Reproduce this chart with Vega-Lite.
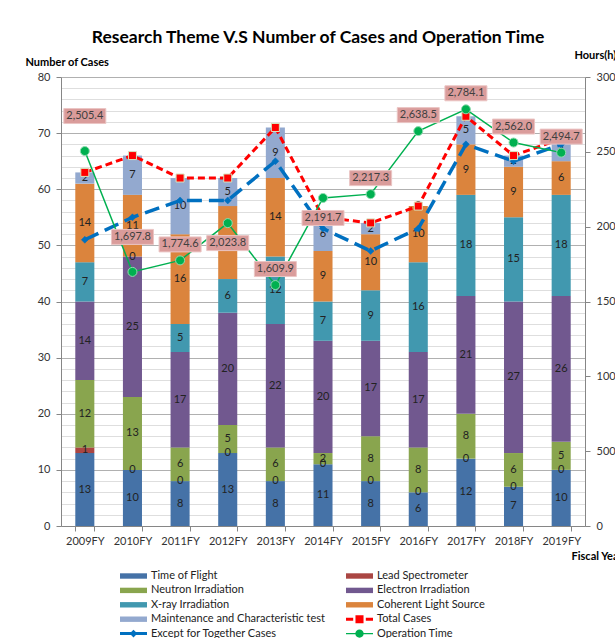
{
  "$schema": "https://vega.github.io/schema/vega-lite/v6.json",
  "width": 524,
  "height": 449,
  "autosize": {"type": "none"},
  "padding": {"left": 61, "top": 77, "right": 30, "bottom": 112},
  "title": {"text": "Research Theme V.S Number of Cases and Operation Time", "font": "Lato", "fontSize": 17.5, "fontWeight": "bold", "color": "#000000", "frame": "group", "anchor": "middle", "offset": 16, "dx": -5, "dy": 27, "baseline": "alphabetic"},
  "config": {
    "font": "Lato",
    "view": {"stroke": null},
    "axis": {"labelFont": "Lato", "labelFontSize": 11, "labelColor": "#333333", "titleFont": "Lato", "titleFontSize": 11, "titleFontWeight": "bold", "titleColor": "#000000", "domainColor": "#868686", "tickColor": "#868686", "tickSize": 5}
  },
  "datasets": {
    "bars": [
      {"fy": "2009FY", "theme": "Time of Flight", "k": 1, "cases": 13},
      {"fy": "2009FY", "theme": "Lead Spectrometer", "k": 2, "cases": 1},
      {"fy": "2009FY", "theme": "Neutron Irradiation", "k": 3, "cases": 12},
      {"fy": "2009FY", "theme": "Electron Irradiation", "k": 4, "cases": 14},
      {"fy": "2009FY", "theme": "X-ray Irradiation", "k": 5, "cases": 7},
      {"fy": "2009FY", "theme": "Coherent Light Source", "k": 6, "cases": 14},
      {"fy": "2009FY", "theme": "Maintenance and Characteristic test", "k": 7, "cases": 2},
      {"fy": "2010FY", "theme": "Time of Flight", "k": 1, "cases": 10},
      {"fy": "2010FY", "theme": "Lead Spectrometer", "k": 2, "cases": 0},
      {"fy": "2010FY", "theme": "Neutron Irradiation", "k": 3, "cases": 13},
      {"fy": "2010FY", "theme": "Electron Irradiation", "k": 4, "cases": 25},
      {"fy": "2010FY", "theme": "X-ray Irradiation", "k": 5, "cases": 0},
      {"fy": "2010FY", "theme": "Coherent Light Source", "k": 6, "cases": 11},
      {"fy": "2010FY", "theme": "Maintenance and Characteristic test", "k": 7, "cases": 7},
      {"fy": "2011FY", "theme": "Time of Flight", "k": 1, "cases": 8},
      {"fy": "2011FY", "theme": "Lead Spectrometer", "k": 2, "cases": 0},
      {"fy": "2011FY", "theme": "Neutron Irradiation", "k": 3, "cases": 6},
      {"fy": "2011FY", "theme": "Electron Irradiation", "k": 4, "cases": 17},
      {"fy": "2011FY", "theme": "X-ray Irradiation", "k": 5, "cases": 5},
      {"fy": "2011FY", "theme": "Coherent Light Source", "k": 6, "cases": 16},
      {"fy": "2011FY", "theme": "Maintenance and Characteristic test", "k": 7, "cases": 10},
      {"fy": "2012FY", "theme": "Time of Flight", "k": 1, "cases": 13},
      {"fy": "2012FY", "theme": "Lead Spectrometer", "k": 2, "cases": 0},
      {"fy": "2012FY", "theme": "Neutron Irradiation", "k": 3, "cases": 5},
      {"fy": "2012FY", "theme": "Electron Irradiation", "k": 4, "cases": 20},
      {"fy": "2012FY", "theme": "X-ray Irradiation", "k": 5, "cases": 6},
      {"fy": "2012FY", "theme": "Coherent Light Source", "k": 6, "cases": 13},
      {"fy": "2012FY", "theme": "Maintenance and Characteristic test", "k": 7, "cases": 5},
      {"fy": "2013FY", "theme": "Time of Flight", "k": 1, "cases": 8},
      {"fy": "2013FY", "theme": "Lead Spectrometer", "k": 2, "cases": 0},
      {"fy": "2013FY", "theme": "Neutron Irradiation", "k": 3, "cases": 6},
      {"fy": "2013FY", "theme": "Electron Irradiation", "k": 4, "cases": 22},
      {"fy": "2013FY", "theme": "X-ray Irradiation", "k": 5, "cases": 12},
      {"fy": "2013FY", "theme": "Coherent Light Source", "k": 6, "cases": 14},
      {"fy": "2013FY", "theme": "Maintenance and Characteristic test", "k": 7, "cases": 9},
      {"fy": "2014FY", "theme": "Time of Flight", "k": 1, "cases": 11},
      {"fy": "2014FY", "theme": "Lead Spectrometer", "k": 2, "cases": 0},
      {"fy": "2014FY", "theme": "Neutron Irradiation", "k": 3, "cases": 2},
      {"fy": "2014FY", "theme": "Electron Irradiation", "k": 4, "cases": 20},
      {"fy": "2014FY", "theme": "X-ray Irradiation", "k": 5, "cases": 7},
      {"fy": "2014FY", "theme": "Coherent Light Source", "k": 6, "cases": 9},
      {"fy": "2014FY", "theme": "Maintenance and Characteristic test", "k": 7, "cases": 6},
      {"fy": "2015FY", "theme": "Time of Flight", "k": 1, "cases": 8},
      {"fy": "2015FY", "theme": "Lead Spectrometer", "k": 2, "cases": 0},
      {"fy": "2015FY", "theme": "Neutron Irradiation", "k": 3, "cases": 8},
      {"fy": "2015FY", "theme": "Electron Irradiation", "k": 4, "cases": 17},
      {"fy": "2015FY", "theme": "X-ray Irradiation", "k": 5, "cases": 9},
      {"fy": "2015FY", "theme": "Coherent Light Source", "k": 6, "cases": 10},
      {"fy": "2015FY", "theme": "Maintenance and Characteristic test", "k": 7, "cases": 2},
      {"fy": "2016FY", "theme": "Time of Flight", "k": 1, "cases": 6},
      {"fy": "2016FY", "theme": "Lead Spectrometer", "k": 2, "cases": 0},
      {"fy": "2016FY", "theme": "Neutron Irradiation", "k": 3, "cases": 8},
      {"fy": "2016FY", "theme": "Electron Irradiation", "k": 4, "cases": 17},
      {"fy": "2016FY", "theme": "X-ray Irradiation", "k": 5, "cases": 16},
      {"fy": "2016FY", "theme": "Coherent Light Source", "k": 6, "cases": 10},
      {"fy": "2016FY", "theme": "Maintenance and Characteristic test", "k": 7, "cases": 0},
      {"fy": "2017FY", "theme": "Time of Flight", "k": 1, "cases": 12},
      {"fy": "2017FY", "theme": "Lead Spectrometer", "k": 2, "cases": 0},
      {"fy": "2017FY", "theme": "Neutron Irradiation", "k": 3, "cases": 8},
      {"fy": "2017FY", "theme": "Electron Irradiation", "k": 4, "cases": 21},
      {"fy": "2017FY", "theme": "X-ray Irradiation", "k": 5, "cases": 18},
      {"fy": "2017FY", "theme": "Coherent Light Source", "k": 6, "cases": 9},
      {"fy": "2017FY", "theme": "Maintenance and Characteristic test", "k": 7, "cases": 5},
      {"fy": "2018FY", "theme": "Time of Flight", "k": 1, "cases": 7},
      {"fy": "2018FY", "theme": "Lead Spectrometer", "k": 2, "cases": 0},
      {"fy": "2018FY", "theme": "Neutron Irradiation", "k": 3, "cases": 6},
      {"fy": "2018FY", "theme": "Electron Irradiation", "k": 4, "cases": 27},
      {"fy": "2018FY", "theme": "X-ray Irradiation", "k": 5, "cases": 15},
      {"fy": "2018FY", "theme": "Coherent Light Source", "k": 6, "cases": 9},
      {"fy": "2018FY", "theme": "Maintenance and Characteristic test", "k": 7, "cases": 2},
      {"fy": "2019FY", "theme": "Time of Flight", "k": 1, "cases": 10},
      {"fy": "2019FY", "theme": "Lead Spectrometer", "k": 2, "cases": 0},
      {"fy": "2019FY", "theme": "Neutron Irradiation", "k": 3, "cases": 5},
      {"fy": "2019FY", "theme": "Electron Irradiation", "k": 4, "cases": 26},
      {"fy": "2019FY", "theme": "X-ray Irradiation", "k": 5, "cases": 18},
      {"fy": "2019FY", "theme": "Coherent Light Source", "k": 6, "cases": 6},
      {"fy": "2019FY", "theme": "Maintenance and Characteristic test", "k": 7, "cases": 4}
    ],
    "lines": [
      {"fy": "2009FY", "total": 63, "except": 51, "hours": 2505.4},
      {"fy": "2010FY", "total": 66, "except": 55, "hours": 1697.8},
      {"fy": "2011FY", "total": 62, "except": 58, "hours": 1774.6},
      {"fy": "2012FY", "total": 62, "except": 58, "hours": 2023.8},
      {"fy": "2013FY", "total": 71, "except": 65, "hours": 1609.9},
      {"fy": "2014FY", "total": 55, "except": 53, "hours": 2191.7},
      {"fy": "2015FY", "total": 54, "except": 49, "hours": 2217.3},
      {"fy": "2016FY", "total": 57, "except": 53, "hours": 2638.5},
      {"fy": "2017FY", "total": 73, "except": 68, "hours": 2784.1},
      {"fy": "2018FY", "total": 66, "except": 65, "hours": 2562.0},
      {"fy": "2019FY", "total": 69, "except": 68, "hours": 2494.7}
    ]
  },
  "layer": [
    {
      "layer": [
        {
          "data": {"name": "bars"},
          "mark": {"type": "bar"},
          "encoding": {
            "x": {"field": "fy", "type": "nominal", "scale": {"paddingInner": 0.6, "paddingOuter": 0.3},
              "axis": {"labelAngle": 0, "labelPadding": 4, "tickBand": "extent", "title": "Fiscal Year", "titleAlign": "left", "titleAnchor": "start", "titleX": 510, "titleY": 30, "titleBaseline": "middle"}},
            "y": {"field": "cases", "type": "quantitative", "stack": "zero", "scale": {"domain": [0, 80], "nice": false},
              "axis": {"values": [0, 2, 4, 6, 8, 10, 12, 14, 16, 18, 20, 22, 24, 26, 28, 30, 32, 34, 36, 38, 40, 42, 44, 46, 48, 50, 52, 54, 56, 58, 60, 62, 64, 66, 68, 70, 72, 74, 76, 78, 80],
                "tickCount": 200,
                "format": "d",
                "labelExpr": "datum.value % 10 === 0 ? datum.label : ''",
                "labelOverlap": false,
                "grid": true,
                "gridColor": {"condition": {"test": "datum.value % 10 === 0", "value": "#b0b0b0"}, "value": "#dedede"},
                "tickColor": {"condition": {"test": "datum.value % 10 === 0", "value": "#868686"}, "value": "transparent"},
                "labelPadding": 6,
                "title": "Number of Cases", "titleAngle": 0, "titleAlign": "left", "titleAnchor": "start", "titleX": -36, "titleY": -15, "titleBaseline": "middle"}},
            "color": {"field": "theme", "type": "nominal",
              "scale": {
                "domain": ["Time of Flight", "Lead Spectrometer", "Neutron Irradiation", "Electron Irradiation", "X-ray Irradiation", "Coherent Light Source", "Maintenance and Characteristic test", "Total Cases", "Except for Together Cases", "Operation Time"],
                "range": ["#4572A7", "#AA4643", "#89A54E", "#71588F", "#4198AF", "#DB843D", "#93A9CF", "#FF0000", "#0070C0", "#00B050"]},
              "legend": {
                "title": null, "orient": "none", "direction": "horizontal", "legendX": 66.5, "legendY": 493, "columns": 2, "columnPadding": 20, "rowPadding": 3.4,
                "symbolSize": 144, "symbolStrokeWidth": 0, "labelFontSize": 11, "labelFont": "Lato", "labelColor": "#222222", "labelOffset": 11.5, "labelLimit": 300, "padding": 0,
                "encode": {"symbols": {"update": {
                  "shape": {"signal": "datum.value === 'Total Cases' ? 'M-2.25,-0.25H-1.05V0.25H-2.25Z M-0.67,-0.67H0.67V0.67H-0.67Z M1.05,-0.25H2.25V0.25H1.05Z' : datum.value === 'Except for Together Cases' ? 'M-2.25,-0.25H2.25V0.25H-2.25Z M0,-0.65L0.65,0L0,0.65L-0.65,0Z' : datum.value === 'Operation Time' ? 'M-2.25,-0.12H2.25V0.12H-2.25Z M0.7,0A0.7,0.7 0 1,1 -0.7,0A0.7,0.7 0 1,1 0.7,0Z' : 'M-2.25,-0.45H2.25V0.45H-2.25Z'"},
                  "fill": {"scale": "color", "field": "value"},
                  "opacity": {"value": 1},
                  "strokeWidth": {"value": 0}}}}}},
            "order": {"field": "k", "type": "quantitative"}
          }
        },
        {
          "data": {"name": "bars"},
          "transform": [
            {"stack": "cases", "groupby": ["fy"], "sort": [{"field": "k", "order": "ascending"}], "as": ["y0", "y1"]},
            {"fold": ["y0", "y1"], "as": ["edge", "yv"]},
            {"aggregate": [{"op": "mean", "field": "yv", "as": "ymid"}], "groupby": ["fy", "theme", "cases"]}
          ],
          "mark": {"type": "text", "fontSize": 11, "font": "Lato", "color": "#222222", "baseline": "middle", "align": "center"},
          "encoding": {
            "x": {"field": "fy", "type": "nominal"},
            "y": {"field": "ymid", "type": "quantitative", "scale": {"domain": [0, 80], "nice": false}},
            "text": {"field": "cases", "type": "quantitative"}
          }
        },
        {
          "data": {"name": "lines"},
          "mark": {"type": "line", "color": "#0070C0", "strokeWidth": 3.5, "strokeDash": [15, 7]},
          "encoding": {
            "x": {"field": "fy", "type": "nominal"},
            "y": {"field": "except", "type": "quantitative", "scale": {"domain": [0, 80], "nice": false}}
          }
        },
        {
          "data": {"name": "lines"},
          "mark": {"type": "point", "shape": "diamond", "size": 49, "filled": true, "fill": "#0070C0", "stroke": "#0070C0", "strokeWidth": 0.5, "opacity": 1},
          "encoding": {
            "x": {"field": "fy", "type": "nominal"},
            "y": {"field": "except", "type": "quantitative", "scale": {"domain": [0, 80], "nice": false}}
          }
        },
        {
          "data": {"name": "lines"},
          "mark": {"type": "line", "color": "#FF0000", "strokeWidth": 3, "strokeDash": [7, 4]},
          "encoding": {
            "x": {"field": "fy", "type": "nominal"},
            "y": {"field": "total", "type": "quantitative", "scale": {"domain": [0, 80], "nice": false}}
          }
        },
        {
          "data": {"name": "lines"},
          "mark": {"type": "point", "shape": "square", "size": 64, "filled": true, "fill": "#FF0000", "stroke": "#D7E4BD", "strokeWidth": 1, "opacity": 1},
          "encoding": {
            "x": {"field": "fy", "type": "nominal"},
            "y": {"field": "total", "type": "quantitative", "scale": {"domain": [0, 80], "nice": false}}
          }
        }
      ]
    },
    {
      "data": {"name": "lines"},
      "layer": [
        {
          "mark": {"type": "line", "color": "#00B050", "strokeWidth": 1.5},
          "encoding": {
            "x": {"field": "fy", "type": "nominal"},
            "y": {"field": "hours", "type": "quantitative", "scale": {"domain": [0, 3000], "nice": false},
              "axis": {"orient": "right", "values": [0, 500, 1000, 1500, 2000, 2500, 3000], "format": "d", "grid": false, "labelPadding": 6,
                "title": "Hours(h)", "titleAngle": 0, "titleAlign": "left", "titleAnchor": "start", "titleX": -11, "titleY": -22, "titleBaseline": "middle"}}
          }
        },
        {
          "mark": {"type": "point", "shape": "circle", "size": 81, "filled": true, "fill": "#00B050", "stroke": "#8FDDB0", "strokeWidth": 1, "opacity": 1},
          "encoding": {
            "x": {"field": "fy", "type": "nominal"},
            "y": {"field": "hours", "type": "quantitative", "scale": {"domain": [0, 3000], "nice": false}}
          }
        },
        {
          "transform": [{"filter": {"field": "fy", "oneOf": ["2011FY", "2013FY", "2015FY", "2016FY", "2017FY", "2018FY", "2019FY"]}}],
          "layer": [
            {
              "mark": {"type": "point", "shape": "M-1.4,-1.567H1.4V-0.567H-1.4Z", "size": 900, "filled": true, "fill": "#DA9C9B", "stroke": "#EBC5C4", "strokeWidth": 1, "opacity": 1},
              "encoding": {"x": {"field": "fy", "type": "nominal"}, "y": {"field": "hours", "type": "quantitative", "scale": {"domain": [0, 3000], "nice": false}}}
            },
            {
              "mark": {"type": "text", "dy": -16, "fontSize": 11, "font": "Lato", "color": "#404040", "baseline": "middle", "align": "center"},
              "encoding": {"x": {"field": "fy", "type": "nominal"}, "y": {"field": "hours", "type": "quantitative", "scale": {"domain": [0, 3000], "nice": false}}, "text": {"field": "hours", "type": "quantitative", "format": ",.1f"}}
            }
          ]
        },
        {
          "transform": [{"filter": {"field": "fy", "oneOf": ["2009FY", "2010FY"]}}],
          "layer": [
            {
              "mark": {"type": "point", "shape": "M-1.4,-2.833H1.4V-1.833H-1.4Z", "size": 900, "filled": true, "fill": "#DA9C9B", "stroke": "#EBC5C4", "strokeWidth": 1, "opacity": 1},
              "encoding": {"x": {"field": "fy", "type": "nominal"}, "y": {"field": "hours", "type": "quantitative", "scale": {"domain": [0, 3000], "nice": false}}}
            },
            {
              "mark": {"type": "text", "dy": -35, "fontSize": 11, "font": "Lato", "color": "#404040", "baseline": "middle", "align": "center"},
              "encoding": {"x": {"field": "fy", "type": "nominal"}, "y": {"field": "hours", "type": "quantitative", "scale": {"domain": [0, 3000], "nice": false}}, "text": {"field": "hours", "type": "quantitative", "format": ",.1f"}}
            }
          ]
        },
        {
          "transform": [{"filter": {"field": "fy", "oneOf": ["2012FY", "2014FY"]}}],
          "layer": [
            {
              "mark": {"type": "point", "shape": "M-1.4,0.833H1.4V1.833H-1.4Z", "size": 900, "filled": true, "fill": "#DA9C9B", "stroke": "#EBC5C4", "strokeWidth": 1, "opacity": 1},
              "encoding": {"x": {"field": "fy", "type": "nominal"}, "y": {"field": "hours", "type": "quantitative", "scale": {"domain": [0, 3000], "nice": false}}}
            },
            {
              "mark": {"type": "text", "dy": 20, "fontSize": 11, "font": "Lato", "color": "#404040", "baseline": "middle", "align": "center"},
              "encoding": {"x": {"field": "fy", "type": "nominal"}, "y": {"field": "hours", "type": "quantitative", "scale": {"domain": [0, 3000], "nice": false}}, "text": {"field": "hours", "type": "quantitative", "format": ",.1f"}}
            }
          ]
        }
      ]
    }
  ],
  "resolve": {"scale": {"y": "independent"}}
}
